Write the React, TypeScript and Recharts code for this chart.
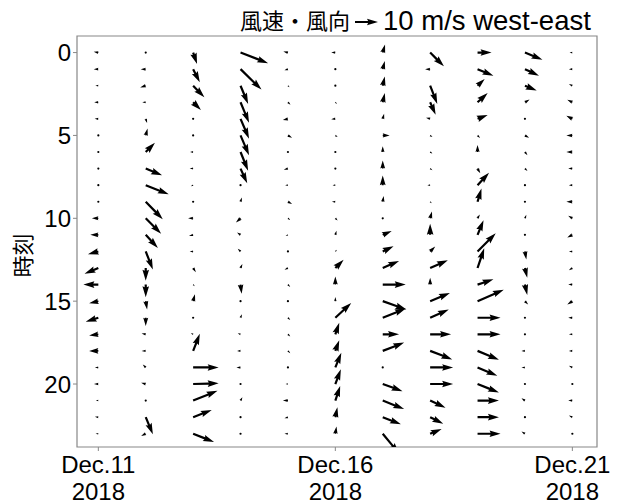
import React from "react";
import { ScatterChart, Scatter, XAxis, YAxis, ReferenceArea } from "recharts";

// day columns (Dec.11 .. Dec.21, 2018) and hours 0..23
const dayTicks = [0, 5, 10];
const dayTickLabels = ["Dec.11", "Dec.16", "Dec.21"];
const tickYear = "2018";
const hours = [0, 1, 2, 3, 4, 5, 6, 7, 8, 9, 10, 11, 12, 13, 14, 15, 16, 17, 18, 19, 20, 21, 22, 23];
const hourTicks = [0, 5, 10, 15, 20];

// west-east component (m/s), one row per day
const uWind = [
  [-2.0, -2.0, -1.3, -1.8, -1.6, -0.8, 0.5, 0.3, 0.4, -0.4, -2.8, -3.5, -4.5, -6.0, -6.5, -4.0, -5.5, -4.0, -4.0, -1.5, -1.9, -1.1, -1.5, -1.2],
  [0.4, -2.2, -2.4, -1.5, 0.6, 0.8, 4.0, 7.1, 10.0, 7.4, 6.7, 5.3, 3.1, 0, 0, 0.6, 0, -1.8, -1.8, -1.3, -2.0, -0.7, 3.1, -2.0],
  [1.7, 2.9, 4.9, 3.4, 0.5, 0.5, -1.3, -1.5, -1.0, 0.5, -2.2, -1.8, -1.5, 1.2, 0.7, 0.8, 0.5, -1.0, 2.9, 11.1, 11.1, 10.6, 8.1, 9.1],
  [12.0, 9.1, 3.3, 3.7, 3.7, 3.7, 3.3, 2.9, 0.5, 0.6, -2.0, -1.5, -1.2, 0.8, 0.5, 0.5, 0.6, -1.2, -1.5, -1.8, 0.5, 0.8, 0.3, 0.6],
  [-2.0, -1.5, 0.7, 1.1, -2.2, 1.8, 0.5, -1.8, -1.2, 1.8, 1.0, -1.0, 0.3, -1.5, 1.0, 0.7, 1.0, 1.0, 1.0, 0.5, -1.0, -2.2, -1.5, -1.5],
  [-1.8, 0.7, 0.7, 0.7, -1.8, 1.0, 0.2, 0.2, -1.2, -1.5, 1.0, 0.5, 0.7, 3.6, 0, 0, 6.9, 1.7, 1.7, 2.6, 2.4, 2.1, 0.9, 0.5],
  [1.0, 0.9, 0.9, 0.9, 0.6, 3.0, 0, 0, 0, 0.4, 0.2, 3.9, 4.7, 7.1, 10.0, 10.3, 10.0, 7.1, 9.3, 0.5, 8.6, 9.3, 7.9, 7.1],
  [6.0, -2.2, 3.1, 2.4, -1.8, 1.0, 1.0, 1.0, -1.2, 0.7, 0.8, 0, 2.2, 7.7, 0, 8.6, 8.1, 9.1, 9.6, 10.0, 10.0, 6.7, 5.7, 5.0],
  [6.1, 6.9, 3.1, 4.4, 4.4, 1.1, 0, 1.2, 5.0, 1.7, 1.0, 2.6, 7.9, 2.9, 6.9, 11.4, 10.0, 10.0, 9.3, 8.6, 9.3, 9.3, 9.3, 10.0],
  [7.6, 6.1, 5.1, 2.0, 0.5, 1.8, 1.1, 1.1, 0.2, 0.5, 0.6, 0.5, 0.6, 1.0, 1.0, 1.4, 0.5, 0.5, -1.5, -1.5, 0.2, -1.5, 0.5, -1.5],
  [-1.2, -1.5, -1.5, -2.2, -2.6, -2.6, -2.6, -1.8, -1.5, -2.6, -1.8, -2.2, -1.5, -1.5, -1.8, -2.2, -1.8, -1.5, -1.5, -1.5, 0.2, -1.8, -1.5, 0.7],
];

// south-north component (m/s)
const vWind = [
  [0.4, 0, 0, 0, 0, 0, 0, 0, 0, 0, 0, 0, -1.2, -2.5, 0, -0.9, -1.8, -0.5, 0, 0, 0, 0, 0.2, 0],
  [-0.2, 0, -0.8, 0, -1.8, 3.0, 4.0, -2.9, -4.0, -7.6, -6.7, -5.7, -7.9, -5.5, -5.5, -3.6, -3.6, 0.4, 0, 1.3, 0.6, 0, -7.4, -1.0],
  [-5.0, -5.7, -5.0, -3.4, -0.5, -0.5, 0, 0, -0.5, -0.5, 0, -0.5, 0, -1.8, -0.7, 3.0, 0, 0.5, 7.4, 0, 0.3, 4.3, 3.1, -3.6],
  [-4.6, -8.9, -7.9, -8.9, -8.6, -8.6, -8.1, -6.4, -0.7, 1.8, -1.8, 1.0, 1.2, 1.8, -4.0, -0.7, 1.5, 0.5, 0, 0, -0.5, 1.5, 0, -0.7],
  [0.5, -0.5, -0.7, -1.1, -0.5, -1.0, -0.7, -0.5, 0, -1.0, -0.7, -0.5, 0, -0.7, -1.0, -0.5, -1.0, -1.0, -1.0, 0, 0, 0, -0.5, 0],
  [0, -0.5, -0.5, -0.7, -0.2, -0.7, 0, 0, 0, 0, -1.0, 1.8, 0.7, 3.6, 3.5, 1.8, 6.4, 5.0, 4.6, 6.4, 6.4, 6.4, 4.3, 3.2],
  [3.5, 3.5, 4.0, 4.0, 2.2, 0, 2.5, 3.5, 4.2, 2.5, 0.6, 1.7, 2.3, 3.1, 0, -3.6, 4.0, 0, 3.6, 0, -3.1, -3.7, -3.1, -8.6],
  [-6.0, 0, -7.9, -5.4, 0.5, -0.7, -0.7, -0.7, 0, -0.7, 3.0, 4.8, 2.2, 3.4, 3.0, 3.6, 3.6, 0, -3.7, 0, 0, -3.1, -2.9, 2.1],
  [0, -2.9, 2.9, 4.0, 1.7, -1.1, 3.0, -2.0, 5.4, 5.7, 1.6, 6.4, 7.9, 8.6, 2.3, 5.0, 0, 0, -3.9, -3.6, -3.7, 0, 0, 0],
  [-3.1, -2.9, -2.1, 1.2, 0, -1.0, -1.4, -1.1, 0, -0.5, 1.5, -0.2, -3.5, -4.2, -4.5, -1.4, 0, -0.5, 0, 0, 0, 1.0, -0.5, 1.0],
  [0, 0, 0.7, 1.1, 1.4, 0, 0, 0, 0, 0, 1.1, -1.1, 0, -1.0, 0, -1.4, 0, 0, 0, 0.7, 0, 0, 0.7, 0],
];

const KEY_SPEED = 10;
const PX_PER_MS = 2.3;
const SHAFT = 2.2;
const FONT = "'Liberation Sans', Arial, 'Noto Sans CJK JP', sans-serif";
const FRAME = "#888";

const points = uWind.flatMap((col, d) =>
  hours.map((h, i) => ({ x: d, y: h, u: col[i], v: vWind[d][i] }))
);

// quiver-style arrow polygon (tail at origin, pointing +x), in px
function arrowPolygon(len: number): [number, number][] {
  const L = len / SHAFT;
  let xs = [0, L - 4.5, L - 5, L];
  let ys = [0.5, 0.5, 1.5, 0];
  if (L < 5) {
    const s = L / 5;
    xs = [0, 0.5, 0, 5].map((x) => x * s);
    ys = ys.map((y) => y * s);
  }
  const pts: [number, number][] = [];
  for (let i = 0; i < 4; i++) pts.push([xs[i] * SHAFT, ys[i] * SHAFT]);
  for (let i = 2; i >= 0; i--) pts.push([xs[i] * SHAFT, -ys[i] * SHAFT]);
  return pts;
}

function arrowPath(cx: number, cy: number, u: number, v: number) {
  const len = Math.hypot(u, v) * PX_PER_MS;
  const a = Math.atan2(-v, u);
  const c = Math.cos(a);
  const s = Math.sin(a);
  return arrowPolygon(len)
    .map(([x, y]) => `${(cx + x * c - y * s).toFixed(2)},${(cy + x * s + y * c).toFixed(2)}`)
    .join(" ");
}

function WindArrow(props: any) {
  const { cx, cy, payload } = props;
  if (cx == null || cy == null) return null;
  const len = Math.hypot(payload.u, payload.v) * PX_PER_MS;
  if (len < SHAFT) return <circle cx={cx} cy={cy} r={1.1} fill="#000" />;
  return <polygon points={arrowPath(cx, cy, payload.u, payload.v)} fill="#000" />;
}

function DayTick({ x, y, payload }: any) {
  const i = dayTicks.indexOf(payload.value);
  return (
    <text x={x} y={y} textAnchor="middle" fontSize={24} fontFamily={FONT} fill="#000">
      <tspan x={x} dy={20}>{dayTickLabels[i]}</tspan>
      <tspan x={x} dy={27}>{tickYear}</tspan>
    </text>
  );
}

function HourLabel({ viewBox }: any) {
  const x = viewBox.x + 23;
  const y = viewBox.y + viewBox.height / 2 + 14;
  return (
    <text x={x} y={y} transform={`rotate(-90, ${x}, ${y})`} textAnchor="middle" dominantBaseline="central"
      fontSize={22} fontFamily={FONT} fill="#000">
      時刻
    </text>
  );
}

export default function App() {
  const keyLen = KEY_SPEED * PX_PER_MS;
  return (
    <div style={{ position: "absolute", left: 0, top: 0, width: 618, height: 504, background: "#fff" }}>
      <ScatterChart width={618} height={504} margin={{ top: 36, right: 21, bottom: 0, left: 0 }}>
        <XAxis
          type="number"
          dataKey="x"
          domain={[-0.45, 10.52]}
          allowDataOverflow
          ticks={dayTicks}
          height={57}
          axisLine={false}
          tickLine={{ stroke: FRAME }}
          tickSize={4}
          tick={<DayTick />}
        />
        <YAxis
          type="number"
          dataKey="y"
          domain={[-1, 23.8]}
          allowDataOverflow
          reversed
          ticks={hourTicks}
          width={77}
          axisLine={false}
          tickLine={{ stroke: FRAME }}
          tickSize={4}
          tick={{ fontSize: 24, fill: "#000", fontFamily: FONT }}
          label={<HourLabel />}
        />
        <ReferenceArea x1={-0.45} x2={10.52} y1={-1} y2={23.8} fill="none" stroke={FRAME} strokeWidth={1.2} />
        <Scatter data={points} shape={<WindArrow />} isAnimationActive={false} />
      </ScatterChart>
      <svg width={618} height={36} style={{ position: "absolute", left: 0, top: 0 }}>
        <text x={240} y={29} fontSize={22} fontFamily={FONT} fill="#000">
          風速・風向
        </text>
        <polygon points={arrowPath(355, 22, KEY_SPEED, 0)} fill="#000" />
        <text x={355 + keyLen + 5} y={30} fontSize={27.5} fontFamily={FONT} fill="#000">
          10 m/s west-east
        </text>
      </svg>
    </div>
  );
}
